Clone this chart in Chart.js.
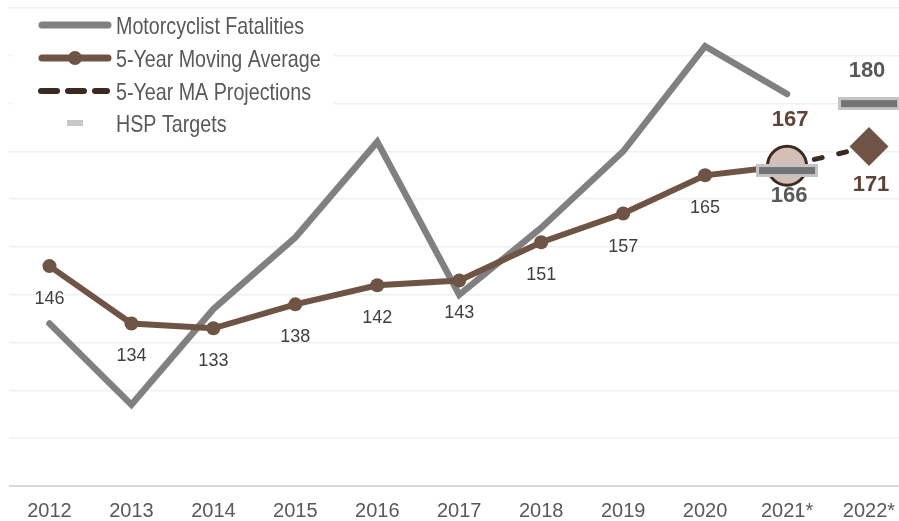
<!DOCTYPE html>
<html>
<head>
<meta charset="utf-8">
<script src="https://cdn.jsdelivr.net/npm/chart.js@4/dist/chart.umd.min.js"></script>
<style>
  html, body { margin: 0; padding: 0; background: #ffffff; }
  #wrap { width: 899px; height: 521px; }
</style>
</head>
<body>
<div id="wrap"><canvas id="c" width="899" height="521"></canvas></div>
<script>
// ---- data ----
const years = [2012, 2013, 2014, 2015, 2016, 2017, 2018, 2019, 2020, 2021, 2022];
const tickLabels = ['2012', '2013', '2014', '2015', '2016', '2017', '2018', '2019', '2020', '2021*', '2022*'];
const fatalityYears = [2012, 2013, 2014, 2015, 2016, 2017, 2018, 2019, 2020, 2021];
const fatalities = [134, 117, 137, 152, 172, 140, 154, 170, 192, 182];
const maYears = [2012, 2013, 2014, 2015, 2016, 2017, 2018, 2019, 2020, 2021];
const movingAvg = [146, 134, 133, 138, 142, 143, 151, 157, 165, 167];
const projYears = [2021, 2022];
const projValues = [167, 171];
const hspYears = [2021, 2022];
const hspTargets = [166, 180];
const legendLabels = ['Motorcyclist Fatalities', '5-Year Moving Average', '5-Year MA Projections', 'HSP Targets'];

const GRAY = '#808080';
const BROWN = '#6f5446';
const DARK = '#3b2a22';
const TEXT = '#595959';

function pts(xs, ys) { return xs.map((x, i) => ({ x: x, y: ys[i] })); }

// HSP target bar marker
function makeBar() {
  const c = document.createElement('canvas');
  c.width = 62; c.height = 13;
  const g = c.getContext('2d');
  g.fillStyle = '#c4c4c4';
  g.fillRect(0, 0, 62, 13);
  g.fillStyle = '#737373';
  g.fillRect(3, 3, 56, 7);
  return c;
}
const barMarker = makeBar();

// narrow font availability
function hasFont(name) {
  const g = document.createElement('canvas').getContext('2d');
  g.font = '30px monospace';
  const a = g.measureText('Motorcyclist Fatalities').width;
  g.font = '30px "' + name + '", monospace';
  const b = g.measureText('Motorcyclist Fatalities').width;
  return Math.abs(a - b) > 1;
}
const narrowOK = hasFont('Liberation Sans Narrow');

function narrowText(ctx, text, x, y, size) {
  if (narrowOK) {
    ctx.font = size + 'px "Liberation Sans Narrow"';
    ctx.fillText(text, x, y);
  } else {
    ctx.save();
    ctx.translate(x, y);
    ctx.scale(0.82, 1);
    ctx.font = size + 'px "Liberation Sans", Arial, sans-serif';
    ctx.fillText(text, 0, 0);
    ctx.restore();
  }
}

const labelPlugin = {
  id: 'valueLabels',
  afterDatasetsDraw(chart) {
    const ctx = chart.ctx;
    ctx.save();
    ctx.textAlign = 'center';
    ctx.textBaseline = 'middle';
    // moving average labels (2012-2020)
    const ma = chart.getDatasetMeta(1);
    ctx.font = '18px "Liberation Sans", Arial, sans-serif';
    ctx.fillStyle = '#404040';
    for (let i = 0; i < 9; i++) {
      const p = ma.data[i];
      ctx.fillText(String(movingAvg[i]), p.x, p.y + 33);
    }
    // projections
    const pr = chart.getDatasetMeta(2);
    ctx.font = 'bold 22px "Liberation Sans", Arial, sans-serif';
    ctx.fillStyle = '#5e4438';
    ctx.fillText(String(projValues[0]), pr.data[0].x + 3, pr.data[0].y - 46);
    ctx.fillText(String(projValues[1]), pr.data[1].x + 2, pr.data[1].y + 38);
    // targets
    const hs = chart.getDatasetMeta(3);
    ctx.fillStyle = TEXT;
    ctx.fillText(String(hspTargets[0]), hs.data[0].x + 2, hs.data[0].y + 25);
    ctx.fillText(String(hspTargets[1]), hs.data[1].x - 2, hs.data[1].y - 33);
    ctx.restore();
  }
};

const legendPlugin = {
  id: 'insideLegend',
  afterDraw(chart) {
    const ctx = chart.ctx;
    ctx.save();
    ctx.fillStyle = '#ffffff';
    ctx.fillRect(12, 11, 322, 130);
    const rows = [25, 58, 91, 123];
    ctx.lineCap = 'round';
    // 1 gray line
    ctx.strokeStyle = GRAY; ctx.lineWidth = 7;
    ctx.beginPath(); ctx.moveTo(42, rows[0]); ctx.lineTo(108, rows[0]); ctx.stroke();
    // 2 brown line with dot
    ctx.strokeStyle = BROWN; ctx.lineWidth = 7;
    ctx.beginPath(); ctx.moveTo(42, rows[1]); ctx.lineTo(108, rows[1]); ctx.stroke();
    ctx.fillStyle = BROWN;
    ctx.beginPath(); ctx.arc(75, rows[1], 7, 0, Math.PI * 2); ctx.fill();
    // 3 dashed
    ctx.strokeStyle = DARK; ctx.lineWidth = 6;
    [[41, 57], [68, 84], [95, 107]].forEach(s => {
      ctx.beginPath(); ctx.moveTo(s[0], rows[2]); ctx.lineTo(s[1], rows[2]); ctx.stroke();
    });
    // 4 light gray dash
    ctx.fillStyle = '#c8c8c8';
    ctx.fillRect(67, rows[3] - 3, 16, 6);
    // text
    ctx.fillStyle = TEXT;
    ctx.textAlign = 'left';
    ctx.textBaseline = 'alphabetic';
    legendLabels.forEach((t, i) => narrowText(ctx, t, 116, rows[i] + 9, 24));
    ctx.restore();
  }
};

new Chart(document.getElementById('c'), {
  type: 'line',
  data: {
    datasets: [
      {
        label: legendLabels[0],
        data: pts(fatalityYears, fatalities),
        borderColor: GRAY,
        borderWidth: 6.5,
        borderCapStyle: 'round',
        borderJoinStyle: 'miter',
        pointRadius: 0,
        tension: 0,
        order: 4
      },
      {
        label: legendLabels[1],
        data: pts(maYears, movingAvg),
        borderColor: BROWN,
        backgroundColor: BROWN,
        borderWidth: 6,
        pointRadius: [7, 7, 7, 7, 7, 7, 7, 7, 7, 0],
        pointBackgroundColor: BROWN,
        pointBorderColor: BROWN,
        pointBorderWidth: 0,
        tension: 0,
        order: 3
      },
      {
        label: legendLabels[2],
        data: pts(projYears, projValues),
        borderColor: DARK,
        borderWidth: 5,
        borderDash: [8, 17],
        borderDashOffset: -3,
        borderCapStyle: 'round',
        pointStyle: ['circle', 'rectRot'],
        pointRadius: [19.5, 19.5],
        pointBackgroundColor: ['#d4beb5', BROWN],
        pointBorderColor: [DARK, BROWN],
        pointBorderWidth: [3, 0],
        tension: 0,
        order: 2
      },
      {
        label: legendLabels[3],
        data: pts(hspYears, hspTargets),
        showLine: false,
        pointStyle: barMarker,
        pointRadius: 31,
        order: 1
      }
    ]
  },
  options: {
    responsive: false,
    devicePixelRatio: 1,
    animation: false,
    events: [],
    layout: { autoPadding: false, padding: { left: 9, top: 8, right: 0, bottom: 0 } },
    plugins: { legend: { display: false }, tooltip: { enabled: false } },
    scales: {
      x: {
        type: 'linear',
        min: 2011.506,
        max: 2022.366,
        afterBuildTicks(scale) { scale.ticks = years.map(v => ({ value: v })); },
        afterFit(scale) { scale.height = 35; scale.paddingLeft = 0; scale.paddingRight = 0; },
        grid: { display: false, drawTicks: false },
        border: { display: false },
        ticks: {
          autoSkip: false,
          maxRotation: 0,
          padding: 13,
          color: TEXT,
          font: { family: '"Liberation Sans", Arial, sans-serif', size: 20 },
          callback(value) { const i = years.indexOf(value); return i >= 0 ? tickLabels[i] : ''; }
        }
      },
      y: {
        min: 100,
        max: 200,
        afterFit(scale) { scale.width = 0; },
        ticks: { display: false, stepSize: 10 },
        border: { display: false },
        grid: {
          drawTicks: false,
          color: ctx => (ctx.tick && ctx.tick.value === 100 ? '#d9d9d9' : '#efefef'),
          lineWidth: ctx => (ctx.tick && ctx.tick.value === 100 ? 2 : 1.5)
        }
      }
    }
  },
  plugins: [labelPlugin, legendPlugin]
});
</script>
</body>
</html>
